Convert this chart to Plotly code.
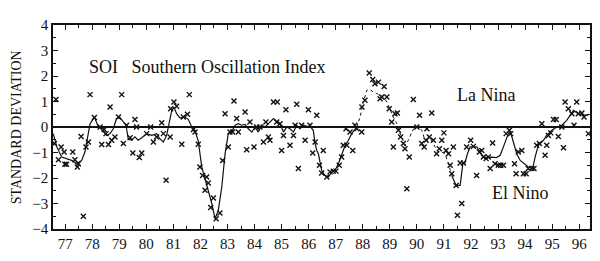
import plotly.graph_objects as go

# monthly SOI values (standard deviations)
soi_year = [
    76.60, 76.66, 76.75, 76.85, 76.96, 76.99, 77.05, 77.28, 77.36, 77.45, 77.49,
    77.59, 77.67, 77.77, 77.86, 77.92, 78.08, 78.29, 78.35, 78.44, 78.51, 78.60,
    78.66, 78.72, 78.84, 78.97, 79.09, 79.15, 79.27, 79.40, 79.50, 79.58, 79.64,
    79.74, 79.83, 80.01, 80.16, 80.26, 80.38, 80.57, 80.63, 80.73, 80.88, 80.90,
    81.02, 81.12, 81.31, 81.37, 81.52, 81.59, 81.74, 81.80, 81.92, 81.98, 82.08,
    82.17, 82.23, 82.29, 82.38, 82.48, 82.58, 82.72, 82.82, 82.91, 83.03, 83.09,
    83.19, 83.24, 83.34, 83.40, 83.65, 83.71, 83.83, 83.98, 84.08, 84.20, 84.33,
    84.42, 84.51, 84.57, 84.70, 84.82, 84.84, 84.94, 85.00, 85.07, 85.16, 85.31,
    85.44, 85.50, 85.56, 85.62, 85.74, 85.87, 85.99, 86.05, 86.15, 86.24, 86.30,
    86.40, 86.48, 86.54, 86.67, 86.79, 86.91, 87.01, 87.13, 87.22, 87.28, 87.38,
    87.41, 87.53, 87.63, 87.71, 87.78, 87.96, 87.97, 88.08, 88.24, 88.37, 88.45,
    88.58, 88.64, 88.70, 88.79, 88.89, 88.98, 89.07, 89.13, 89.19, 89.28, 89.32,
    89.40, 89.50, 89.56, 89.63, 89.72, 89.87, 90.00, 90.10, 90.18, 90.27, 90.34,
    90.37, 90.46, 90.55, 90.61, 90.73, 90.83, 90.92, 91.00, 91.08, 91.17, 91.23,
    91.29, 91.35, 91.45, 91.50, 91.60, 91.66, 91.72, 91.84, 91.99, 92.09, 92.21,
    92.31, 92.40, 92.46, 92.56, 92.64, 92.71, 92.80, 92.89, 93.01, 93.10, 93.20,
    93.30, 93.42, 93.47, 93.61, 93.67, 93.75, 93.88, 93.94, 94.04, 94.12, 94.25,
    94.33, 94.43, 94.53, 94.62, 94.74, 94.80, 94.86, 94.95, 95.05, 95.15, 95.23,
    95.36, 95.42, 95.48, 95.60, 95.73, 95.81, 95.91, 95.97, 96.10, 96.18, 96.34,
]
soi_value = [
    -0.65, 1.08, -1.28, -0.78, -0.98, -1.46, -1.46, -0.98, -1.28, -1.57, -1.44,
    -0.37, -3.50, -0.78, -0.59, 1.27, 0.37, 0.00, -0.69, -0.10, -0.26, -0.69,
    0.78, -0.52, -0.39, 0.39, 1.27, -0.65, 0.07, -0.42, -1.02, 0.29, 0.00,
    -1.20, -1.02, -0.26, 0.00, -0.59, -0.39, 0.17, -0.26, -2.09, -0.39, 0.72,
    0.98, 0.81, -0.68, 0.39, 0.50, 1.27, -0.10, -0.20, -0.68, -1.57, -1.90,
    -2.48, -1.96, -2.20, -3.16, -2.78, -3.60, -3.37, -1.31, 0.52, -0.78, -0.20,
    -0.20, 1.02, 0.33, -0.20, 0.59, -0.89, 0.20, -0.78, 0.00, 0.00, -0.59,
    0.20, -0.39, -0.52, 0.98, 0.20, 0.98, 0.13, -0.92, -0.33, 0.68, -0.72,
    -0.33, 0.07, 0.89, -1.63, 0.07, -0.52, 0.68, 0.07, -1.02, -0.59, 0.46,
    -1.50, -1.80, -0.92, -1.96, -1.76, -1.73, -1.73, -1.50, -1.18, -0.72, -0.07,
    -0.72, -0.20, -0.92, 0.07, -0.07, -0.20, 0.78, 1.05, 2.12, 1.86, 1.70,
    1.76, 1.11, 1.18, 1.59, 1.18, 0.72, 0.20, -0.78, 0.52, 0.55, -0.13,
    -0.39, -0.65, -0.85, -2.42, -1.18, 1.08, 0.00, 0.46, -0.65, -0.78, -0.52,
    -0.07, -0.39, 0.55, -0.52, -1.05, -0.85, -0.52, -0.23, -0.92, -1.05, -1.50,
    -1.83, -0.78, -2.29, -3.46, -1.41, -3.00, -1.41, -0.78, -0.52, -0.76, -1.90,
    -0.98, -0.92, -1.18, -1.24, -1.18, -1.63, -0.63, -1.44, -1.50, -1.50, -1.50,
    -0.26, -0.13, -0.26, -1.44, -1.83, -0.98, -0.92, -1.83, -1.83, -1.63, -1.63,
    -1.63, -0.72, -0.65, 0.13, -1.11, -0.72, -0.33, -0.23, 0.29, 0.29, -0.37,
    0.00, -0.81, 0.98, 0.72, 0.52, 0.07, 0.98, 0.52, 0.55, 0.39, -0.26,
]

# smoothed curve, solid part up to 1988 and from mid 1991
smooth_year = [
    76.56, 76.69, 76.87, 77.05, 77.24, 77.42, 77.61, 77.73, 77.82, 77.92, 78.08,
    78.19, 78.29, 78.41, 78.53, 78.66, 78.78, 78.90, 79.03, 79.15, 79.25, 79.33,
    79.46, 79.58, 79.70, 79.83, 80.01, 80.20, 80.38, 80.50, 80.63, 80.75, 80.85,
    80.94, 81.02, 81.12, 81.25, 81.40, 81.55, 81.68, 81.80, 81.92, 82.05, 82.13,
    82.23, 82.33, 82.42, 82.54, 82.66, 82.79, 82.91, 83.03, 83.15, 83.28, 83.40,
    83.52, 83.65, 83.77, 83.90, 84.02, 84.14, 84.26, 84.39, 84.51, 84.70, 84.84,
    84.94, 85.07, 85.19, 85.31, 85.44, 85.56, 85.68, 85.80, 85.93, 86.05, 86.17,
    86.24, 86.30, 86.36, 86.48, 86.60, 86.73, 86.85, 86.98, 87.10, 87.22, 87.35,
    87.47, 87.59, 87.78,
]
smooth_value = [
    -0.26, -0.78, -1.18, -1.24, -1.31, -1.44, -1.31, -0.98, -0.52, 0.13, 0.39,
    0.10, -0.03, -0.16, -0.33, -0.26, -0.07, 0.33, 0.37, 0.20, 0.07, -0.46,
    -0.52, -0.39, -0.52, -0.42, -0.26, -0.33, -0.26, -0.46, -0.59, -0.33, 0.13,
    0.65, 0.78, 0.52, 0.35, 0.40, 0.30, 0.00, -0.15, -0.55, -1.57, -1.90,
    -2.22, -2.61, -3.00, -3.60, -3.27, -2.35, -1.05, -0.26, -0.20, 0.07, 0.13,
    0.07, 0.10, -0.07, -0.20, 0.00, -0.20, 0.07, 0.00, 0.13, 0.33, 0.20,
    0.13, -0.20, 0.00, -0.07, -0.20, 0.07, -0.07, 0.07, 0.03, 0.03, -0.13,
    -0.65, -0.92, -1.05, -1.70, -1.90, -1.96, -1.76, -1.70, -1.44, -1.11, -0.72,
    -0.52, -0.26, 0.00,
]
faint_year = [
    87.78, 87.90, 88.02, 88.15, 88.27, 88.39, 88.52, 88.64, 88.76, 88.89, 89.01,
    89.13, 89.26, 89.35, 89.44, 89.56, 89.69, 89.81, 89.93, 90.06, 90.18, 90.30,
    90.43, 90.55, 90.67, 90.80, 90.92, 91.04, 91.17, 91.29,
]
faint_value = [
    0.00, 0.39, 0.98, 1.44, 1.46, 1.37, 1.31, 1.25, 1.18, 0.98, 0.65,
    0.39, 0.13, -0.20, -0.39, -0.72, -0.52, -0.20, 0.00, 0.03, -0.13, -0.52,
    -0.52, -0.52, -0.78, -0.98, -0.98, -1.05, -1.44, -1.90,
]
late_year = [
    91.29, 91.45, 91.60, 91.70, 91.78, 91.87, 91.97, 92.09, 92.21, 92.34, 92.46,
    92.58, 92.77, 92.95, 93.08, 93.22, 93.38, 93.47, 93.57, 93.69, 93.82, 93.96,
    94.12, 94.28, 94.37, 94.49, 94.68, 94.80, 94.99, 95.17, 95.36, 95.54, 95.69,
    95.79, 95.97, 96.16, 96.34,
]
late_value = [
    -1.90, -2.29, -2.29, -1.44, -1.41, -1.05, -0.78, -0.78, -0.78, -0.98, -1.18,
    -1.20, -1.18, -1.20, -1.11, -0.72, -0.26, -0.23, -0.59, -1.05, -1.31, -1.44,
    -1.57, -1.63, -1.18, -0.72, -0.52, -0.33, -0.13, 0.00, 0.07, 0.26, 0.52,
    0.65, 0.52, 0.46, 0.46,
]

year_ticks = list(range(77, 97))
year_labels = [str(y) for y in year_ticks]

serif = "Liberation Serif, Times New Roman, serif"
ink = "#111111"

fig = go.Figure()
fig.add_trace(go.Scatter(x=smooth_year, y=smooth_value, mode="lines",
                         line=dict(color=ink, width=1.2)))
fig.add_trace(go.Scatter(x=faint_year, y=faint_value, mode="lines",
                         line=dict(color=ink, width=1, dash="dot")))
fig.add_trace(go.Scatter(x=late_year, y=late_value, mode="lines",
                         line=dict(color=ink, width=1.2)))
fig.add_trace(go.Scatter(x=soi_year, y=soi_value, mode="markers",
                         marker=dict(symbol="x-thin", size=5,
                                     line=dict(width=1.4, color=ink))))

axis_common = dict(showline=True, linecolor=ink, linewidth=1.5, mirror="allticks",
                   ticks="inside", ticklen=5, tickcolor=ink, showgrid=False,
                   automargin=False,
                   tickfont=dict(family=serif, size=15, color=ink))

fig.update_xaxes(range=[76.55, 96.4], tickvals=year_ticks, ticktext=year_labels,
                 zeroline=False,
                 minor=dict(dtick=0.5, tick0=77, ticks="inside", ticklen=3, tickcolor=ink),
                 **axis_common)
fig.update_yaxes(range=[-4, 4], dtick=1, zeroline=True, zerolinecolor=ink,
                 zerolinewidth=1.5,
                 minor=dict(dtick=0.5, ticks="inside", ticklen=3, tickcolor=ink),
                 **axis_common)

fig.add_annotation(x=0.063, y=0.853, xref="paper", yref="paper", xanchor="left",
                   text="SOI   Southern Oscillation Index", showarrow=False,
                   font=dict(family=serif, size=18, color=ink))
fig.add_annotation(x=0.749, y=0.716, xref="paper", yref="paper", xanchor="left",
                   text="La Nina", showarrow=False,
                   font=dict(family=serif, size=18, color=ink))
fig.add_annotation(x=0.814, y=0.118, xref="paper", yref="paper", xanchor="left",
                   text="El Nino", showarrow=False,
                   font=dict(family=serif, size=18, color=ink))
fig.add_annotation(x=-0.086, y=0.5, xref="paper", yref="paper", textangle=-90,
                   text="STANDARD DEVIATION", showarrow=False,
                   font=dict(family=serif, size=14, color=ink))

# the page body keeps its default 8px margin, so the figure is sized to fit
fig.update_layout(
    width=592, height=253,
    margin=dict(l=45, r=10, t=17, b=32, autoexpand=False),
    paper_bgcolor="white", plot_bgcolor="white",
    showlegend=False,
)

fig.write_html("out.html")
